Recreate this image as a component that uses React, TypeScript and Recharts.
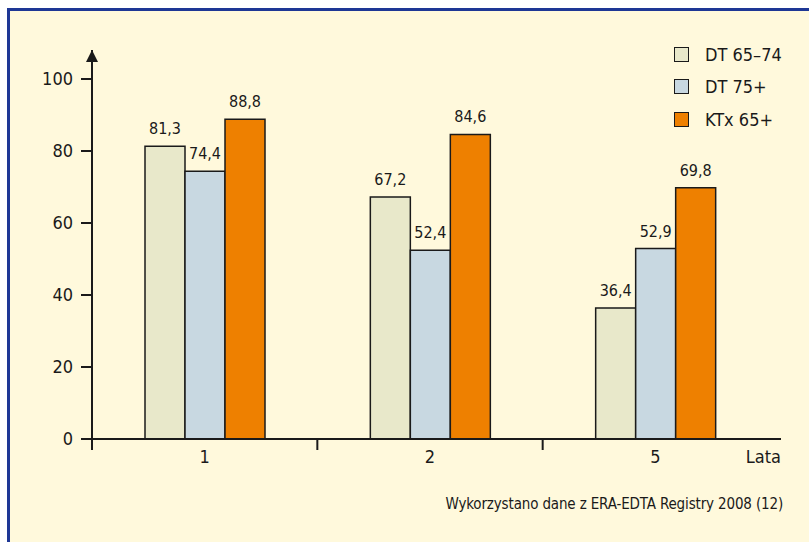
import { BarChart, Bar, XAxis, YAxis, LabelList, Customized, usePlotArea } from 'recharts'

const YEARS = ['1', '2', '5']
const DT_65_74 = [81.3, 67.2, 36.4]
const DT_75 = [74.4, 52.4, 52.9]
const KTX_65 = [88.8, 84.6, 69.8]
const Y_TICKS = [0, 20, 40, 60, 80, 100]

const SERIES = [
  { key: 'dt6574', name: 'DT 65–74', color: '#E8E8CA' },
  { key: 'dt75', name: 'DT 75+', color: '#C8D8E1' },
  { key: 'ktx65', name: 'KTx 65+', color: '#EE8000' },
]

const data = YEARS.map((y, i) => ({ year: y, dt6574: DT_65_74[i], dt75: DT_75[i], ktx65: KTX_65[i] }))

const FONT = '"Liberation Sans Narrow", "DejaVu Sans Condensed", Roboto, sans-serif'
const INK = '#1a1a1a'
const fmt = (v: any) => Number(v).toFixed(1).replace('.', ',')

function AxisArrow() {
  const p = usePlotArea()
  if (!p) return null
  const x = p.x, y = p.y
  return <polygon points={`${x},${y} ${x - 6},${y + 12} ${x + 6},${y + 12}`} fill={INK} />
}

function XTick(props: any) {
  const { x, y, payload } = props
  const half = payload?.offset ?? 0
  return (
    <g>
      <line x1={x - half} x2={x - half} y1={y} y2={y + 11} stroke={INK} strokeWidth={2} />
      <text x={x} y={y + 19} textAnchor="middle" dominantBaseline="middle" fontSize={18} fill={INK} fontFamily={FONT}>
        {payload.value}
      </text>
    </g>
  )
}

function LegendBox() {
  return (
    <div style={{ position: 'absolute', left: 674, top: 38, fontFamily: FONT }}>
      {SERIES.map(s => (
        <div key={s.key} style={{ display: 'flex', alignItems: 'center', height: 32.5 }}>
          <span style={{ width: 13, height: 13, background: s.color, border: `1.5px solid ${INK}`, marginRight: 16 }} />
          <span style={{ fontSize: 18, color: INK }}>{s.name}</span>
        </div>
      ))}
    </div>
  )
}

export default function App() {
  return (
    <div style={{ position: 'fixed', left: 0, top: 0, width: 809, height: 542, background: '#fff', overflow: 'hidden' }}>
      <div style={{ position: 'absolute', left: 7, top: 8, width: 820, height: 560, background: '#FFF9DC', borderLeft: '3px solid #1E3795', borderTop: '3px solid #1E3795' }} />
      <div style={{ position: 'absolute', left: 0, top: 0 }}>
        <BarChart width={809} height={542} data={data} margin={{ top: 50, right: 28, left: 0, bottom: 73 }} barGap={0} barSize={40}>
          <XAxis
            dataKey="year"
            height={30}
            padding={{ right: 13 }}
            axisLine={{ stroke: INK, strokeWidth: 2 }}
            tickLine={false}
            tickSize={0}
            tickMargin={0}
            tick={<XTick />}
            label={{
              content: (p: any) => {
                const vb = p.viewBox || {}
                return (
                  <text x={vb.x + vb.width} y={vb.y + 19} textAnchor="end" dominantBaseline="middle" fontSize={18} fill={INK} fontFamily={FONT}>
                    Lata
                  </text>
                )
              },
            }}
          />
          <YAxis
            width={92}
            domain={[0, 100]}
            ticks={Y_TICKS}
            padding={{ top: 29 }}
            axisLine={{ stroke: INK, strokeWidth: 2 }}
            tickLine={{ stroke: INK, strokeWidth: 2 }}
            tickSize={11}
            tickMargin={8}
            tick={{ fontSize: 18, fill: INK, fontFamily: FONT }}
          />
          {SERIES.map(s => (
            <Bar key={s.key} dataKey={s.key} name={s.name} fill={s.color} stroke={INK} strokeWidth={1.5} isAnimationActive={false}>
              <LabelList dataKey={s.key} position="top" offset={12} formatter={fmt} style={{ fontSize: 16, fill: INK, fontFamily: FONT }} />
            </Bar>
          ))}
          <Customized component={<AxisArrow />} />
        </BarChart>
      </div>
      <LegendBox />
      <div style={{ position: 'absolute', right: 26, top: 495, fontFamily: FONT, fontSize: 15, letterSpacing: -0.15, color: INK, whiteSpace: 'nowrap' }}>
        Wykorzystano dane z ERA-EDTA Registry 2008 (12)
      </div>
    </div>
  )
}
